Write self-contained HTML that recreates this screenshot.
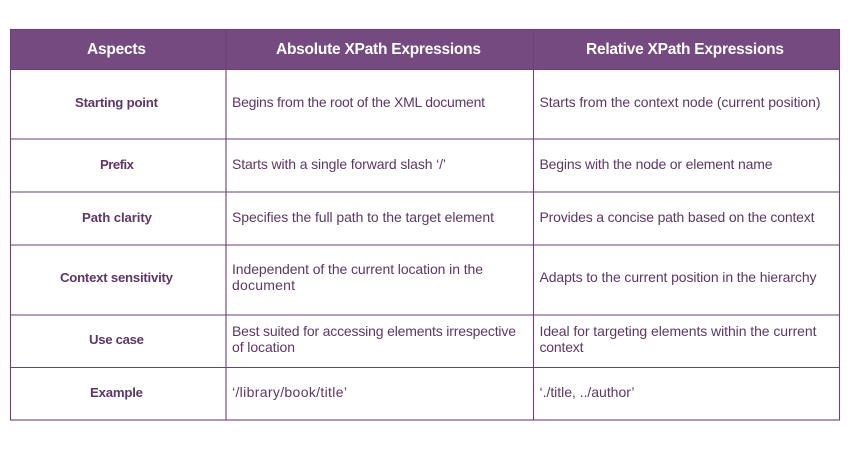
<!DOCTYPE html>
<html><head><meta charset="utf-8"><style>
html,body{margin:0;padding:0;background:#fff;width:850px;height:450px;overflow:hidden}
svg{display:block}
text{font-family:"Liberation Sans",sans-serif}
.h{font-size:15.5px;font-weight:bold;fill:#fff}
.b{font-size:13.2px;font-weight:bold;fill:#5e3668}
.t{font-size:14px;fill:#5e3668}
.l{stroke:#6b4177;stroke-width:1.1;fill:none}
</style></head><body>
<svg width="850" height="450" viewBox="0 0 850 450" xmlns="http://www.w3.org/2000/svg">
<rect x="10" y="29" width="830" height="40.5" fill="#754a80"/>
<rect x="10.5" y="29.5" width="829" height="390.5" class="l"/>
<path class="l" d="M226 29V420M533.5 29V420M10 69.5H840M10 139H840M10 192H840M10 245H840M10 315H840M10 367.5H840"/>
<text class="h" x="87" y="54" textLength="59" lengthAdjust="spacing">Aspects</text>
<text class="h" x="276" y="54" textLength="205" lengthAdjust="spacing">Absolute XPath Expressions</text>
<text class="h" x="586" y="54" textLength="198" lengthAdjust="spacing">Relative XPath Expressions</text>

<text class="b" x="75" y="107" textLength="83" lengthAdjust="spacing">Starting point</text>
<text class="b" x="100" y="169" textLength="34" lengthAdjust="spacing">Prefix</text>
<text class="b" x="82" y="222" textLength="70" lengthAdjust="spacing">Path clarity</text>
<text class="b" x="60" y="282" textLength="113" lengthAdjust="spacing">Context sensitivity</text>
<text class="b" x="89" y="344" textLength="55" lengthAdjust="spacing">Use case</text>
<text class="b" x="90" y="397" textLength="53" lengthAdjust="spacing">Example</text>

<text class="t" x="232" y="107" textLength="253" lengthAdjust="spacing">Begins from the root of the XML document</text>
<text class="t" x="232" y="169" textLength="214" lengthAdjust="spacing">Starts with a single forward slash ‘/’</text>
<text class="t" x="232" y="222" textLength="262" lengthAdjust="spacing">Specifies the full path to the target element</text>
<text class="t" x="232" y="274" textLength="251" lengthAdjust="spacing">Independent of the current location in the</text>
<text class="t" x="232" y="290" textLength="63" lengthAdjust="spacing">document</text>
<text class="t" x="232" y="336" textLength="284" lengthAdjust="spacing">Best suited for accessing elements irrespective</text>
<text class="t" x="232" y="352" textLength="63" lengthAdjust="spacing">of location</text>
<text class="t" x="232" y="397" textLength="115" lengthAdjust="spacing">‘/library/book/title’</text>

<text class="t" x="539.5" y="107" textLength="281" lengthAdjust="spacing">Starts from the context node (current position)</text>
<text class="t" x="539.5" y="169" textLength="233" lengthAdjust="spacing">Begins with the node or element name</text>
<text class="t" x="539.5" y="222" textLength="275" lengthAdjust="spacing">Provides a concise path based on the context</text>
<text class="t" x="539.5" y="282" textLength="277" lengthAdjust="spacing">Adapts to the current position in the hierarchy</text>
<text class="t" x="539.5" y="336" textLength="277" lengthAdjust="spacing">Ideal for targeting elements within the current</text>
<text class="t" x="539.5" y="352" textLength="44" lengthAdjust="spacing">context</text>
<text class="t" x="539.5" y="397" textLength="95" lengthAdjust="spacing">‘./title, ../author’</text>
</svg>
</body></html>
